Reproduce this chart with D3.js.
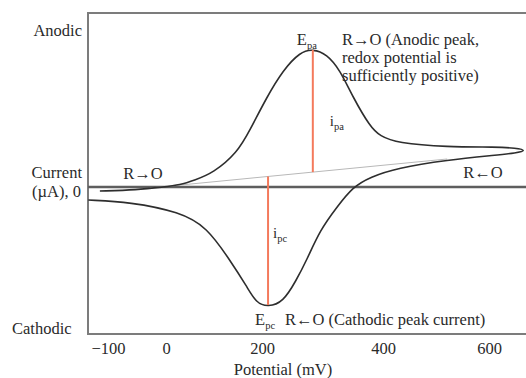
<!DOCTYPE html>
<html>
<head>
<meta charset="utf-8">
<script src="https://cdn.jsdelivr.net/npm/d3@7"></script>
<style>
  body { margin: 0; background: #fff; }
  svg { display: block; }
  text { font-family: "Liberation Serif", "Times New Roman", serif; fill: #2a2a2a; }
</style>
</head>
<body>
<svg id="chart" width="526" height="378"></svg>
<script>
// tick labels of the potential axis (mV)
const xTicks = [-100, 0, 200, 400, 600];

// forward scan R -> O : potential (mV), current (uA, schematic units)
const fwdE = [-114, -50, -5, 29, 60, 98, 148, 175, 208, 235, 263, 284, 307, 329, 350, 379, 395, 426, 521, 615, 650, 672];
const fwdI = [-0.4, -0.3, 0, 0.2, 0.7, 1.4, 3.4, 5.7, 9.0, 11.7, 13.5, 13.8, 13.3, 11.7, 9.0, 6.0, 5.1, 4.4, 4.0, 4.0, 3.9, 3.65];

// reverse scan R <- O
const revE = [672, 650, 615, 521, 426, 379, 350, 324, 296, 274, 256, 235, 210, 188, 169, 133, 85, 29, -62, -134];
const revI = [3.65, 3.4, 3.2, 2.7, 1.9, 1.0, 0, -2.0, -4.3, -7.3, -9.4, -11.5, -12.0, -11.6, -10.0, -7.3, -4.0, -2.5, -1.5, -1.3];

// extrapolated baseline
const baseE = [-28, 521];
const baseI = [-0.1, 2.8];

// peaks: anodic, cathodic
const peakE = [284, 210];
const peakI = [13.7, -11.8];

const svg = d3.select('#chart');
const frame = { left: 88, top: 13, right: 526, bottom: 334 };

// piecewise potential scale (tick labels are not evenly spaced in the figure)
const x = d3.scaleLinear()
  .domain(xTicks)
  .range([108, 166, 262, 383, 489]);

const y = d3.scaleLinear()
  .domain([-14.7, 17.4])
  .range([frame.bottom, frame.top]);

const zip = (a, b) => a.map((v, i) => [v, b[i]]);

//рамка
svg.append('path')
  .attr('d', `M${frame.right},${frame.top}H${frame.left}V${frame.bottom}H${frame.right}`)
  .style('fill', 'none')
  .style('stroke', '#7c7c7c')
  .style('stroke-width', 2);

//нулевая линия
svg.append('line')
  .attr('x1', frame.left).attr('x2', frame.right)
  .attr('y1', y(0)).attr('y2', y(0))
  .style('stroke', '#5e5e5e')
  .style('stroke-width', 2.4);

// baseline
const baseLine = zip(baseE, baseI);
svg.append('path')
  .attr('d', d3.line().x(d => x(d[0])).y(d => y(d[1]))(baseLine))
  .style('stroke', '#b8b8b8')
  .style('stroke-width', 1)
  .style('fill', 'none');

// curve
const line = d3.line()
  .x(d => x(d[0]))
  .y(d => y(d[1]))
  .curve(d3.curveBasis);

const loop = zip(fwdE, fwdI).concat(zip(revE, revI).slice(1));

svg.append('path')
  .attr('d', line(loop))
  .style('fill', 'none')
  .style('stroke', '#2e2e2e')
  .style('stroke-width', 1.6);

// peak current lines from the baseline
const bx0 = x(baseE[0]), bx1 = x(baseE[1]);
const by0 = y(baseI[0]), by1 = y(baseI[1]);
const baseAt = px => by0 + (px - bx0) / (bx1 - bx0) * (by1 - by0);

svg.selectAll('line.peak')
  .data(peakE.map((e, i) => ({ e, i: peakI[i] })))
  .enter()
  .append('line')
  .classed('peak', true)
  .attr('x1', d => x(d.e)).attr('x2', d => x(d.e))
  .attr('y1', d => baseAt(x(d.e)))
  .attr('y2', d => y(d.i))
  .style('stroke', '#f47a5c')
  .style('stroke-width', 2);

// axis
const axis = svg.append('g')
  .attr('transform', `translate(0,${frame.bottom})`)
  .call(d3.axisBottom(x).tickValues(xTicks).tickSize(0).tickPadding(8.5));
axis.select('.domain').remove();
axis.selectAll('text')
  .style('font-family', '"Liberation Serif", serif')
  .style('font-size', '16.5px')
  .style('fill', '#2a2a2a');

const fs = 16.5;
const label = (tx, ty, str, anchor) => svg.append('text')
  .attr('x', tx).attr('y', ty)
  .attr('text-anchor', anchor || 'start')
  .style('font-size', fs + 'px')
  .text(str);

// subscripted labels
const subLabel = (tx, ty, main, sub, size) => {
  const t = svg.append('text')
    .attr('x', tx).attr('y', ty)
    .style('font-size', (size || fs) + 'px');
  t.append('tspan').text(main);
  t.append('tspan').attr('dy', 4).style('font-size', '10.5px').text(sub);
  return t;
};

label(82, 36, 'Anodic', 'end');
label(82, 178, 'Current', 'end');
label(81, 197, '(\u00b5A), 0', 'end');
label(12, 334, 'Cathodic');
label(283, 375, 'Potential (mV)', 'middle');

label(143, 179, 'R\u2192O', 'middle');
label(483, 178, 'R\u2190O', 'middle');

subLabel(x(peakE[0]) - 16, 45, 'E', 'pa');
label(342, 45, 'R\u2192O (Anodic peak,');
label(342, 63, 'redox potential is');
label(342, 81, 'sufficiently positive)');

subLabel(x(peakE[0]) + 17, 126, 'i', 'pa', 15);
subLabel(x(peakE[1]) + 5, 238, 'i', 'pc', 15);

subLabel(x(peakE[1]) - 13, 325, 'E', 'pc');
label(285, 325, 'R\u2190O (Cathodic peak current)');
</script>
</body>
</html>
